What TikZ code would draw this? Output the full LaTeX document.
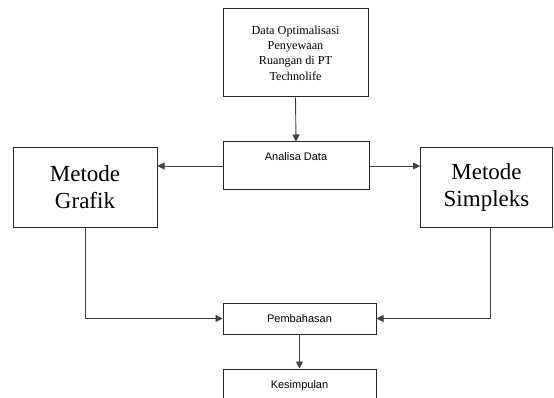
\documentclass[tikz,border=0pt]{standalone}
\usepackage{fontspec}
\setmainfont{Liberation Serif}
\setsansfont{Liberation Sans}
\usetikzlibrary{arrows.meta}
\begin{document}
\begin{tikzpicture}[x=1pt,y=-1pt,
  box/.style={draw=black!85, line width=1pt, rectangle, inner sep=0pt},
  serifbig/.style={font=\fontsize{23}{27}\selectfont, align=center},
  sanslab/.style={font=\sffamily\fontsize{11}{13}\selectfont, anchor=north},
  arr/.style={draw=black!75, line width=0.9pt, -{Triangle[length=7pt,width=7pt]}}]
\useasboundingbox (0,0) rectangle (554,398);
\clip (0,0) rectangle (554,398);
\node[box, minimum width=145, minimum height=88, align=center,
      font=\fontsize{12.2}{15.3}\selectfont] (data) at (295.5,53)
      {Data Optimalisasi\\Penyewaan\\Ruangan di PT\\Technolife};
\node[box, minimum width=146, minimum height=48,
      label={[sanslab, yshift=-7pt]north:Analisa Data}] (anal) at (296,166) {};
\node[box, serifbig, minimum width=144, minimum height=79] (graf) at (85,187.5) {Metode\\Grafik};
\node[box, serifbig, minimum width=132, minimum height=79] (simp) at (486.5,187.5) {Metode\\Simpleks};
\node[box, sanslab, anchor=center, minimum width=153, minimum height=31] (pemb) at (299.5,318.5) {Pembahasan};
\node[box, minimum width=153, minimum height=48,
      label={[sanslab, yshift=-8pt]north:Kesimpulan}] (kes) at (299.5,393) {};
\draw[arr] (data.south) -- (anal.north);
\draw[arr] (anal.west) -- (anal.west -| graf.east);
\draw[arr] (anal.east) -- (anal.east -| simp.west);
\draw[arr] (graf.south) |- (pemb.west);
\draw[arr] ([xshift=3.5pt]simp.south) |- (pemb.east);
\draw[arr] (pemb.south) -- (kes.north);
\end{tikzpicture}
\end{document}
